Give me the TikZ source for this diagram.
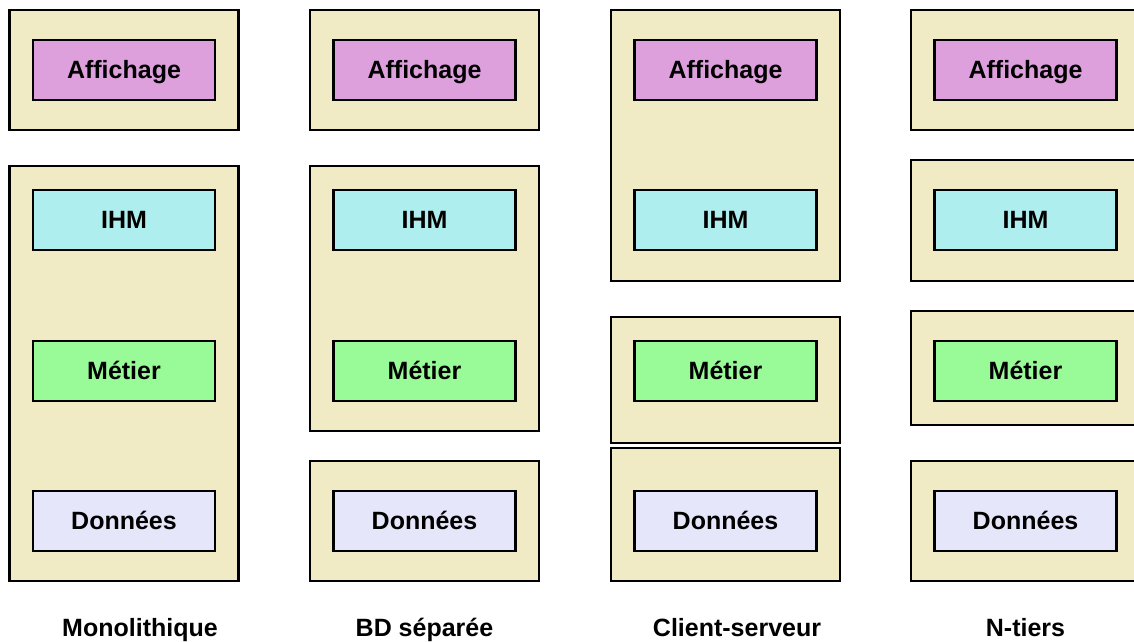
\documentclass[tikz,border=0pt]{standalone}
\usepackage{fontspec}
\setmainfont{Liberation Sans}
\definecolor{tierbg}{HTML}{F0EBC4}
\definecolor{affc}{HTML}{DDA0DD}
\definecolor{ihmc}{HTML}{AFEEEE}
\definecolor{metc}{HTML}{98FB98}
\definecolor{donc}{HTML}{E6E6FA}
\tikzset{
  tier/.style={draw=black, fill=tierbg, line width=2.6pt, minimum width=229pt, inner sep=0pt, outer sep=0pt},
  layer/.style={draw=black, line width=2.6pt, minimum width=182pt, minimum height=60pt, inner sep=0pt, outer sep=0pt,
    font=\fontsize{25pt}{30pt}\selectfont\bfseries, text height=16pt, text depth=0pt},
  aff/.style={layer, fill=affc},
  ihm/.style={layer, fill=ihmc},
  met/.style={layer, fill=metc},
  don/.style={layer, fill=donc},
  caption/.style={font=\fontsize{25pt}{30pt}\selectfont\bfseries, anchor=base, inner sep=0pt}
}
\begin{document}
\begin{tikzpicture}[x=1pt, y=-1pt]
\useasboundingbox (0,0) rectangle (1134,641);
% Column 1: Monolithique
\node[tier, minimum height=120pt] (m1) at (124,70) {};
\node[tier, minimum height=415pt] (m2) at (124,373.5) {};
\node[aff] (maff) at (124,70) {Affichage};
\node[ihm] (mihm) at (124,220) {IHM};
\node[met] (mmet) at (124,371) {Métier};
\node[don] (mdon) at (124,521) {Données};
\node[caption] (mcap) at (140,636) {Monolithique};
% Column 2: BD séparée
\node[tier, minimum height=120pt] (b1) at (424.5,70) {};
\node[tier, minimum height=265pt] (b2) at (424.5,298.5) {};
\node[tier, minimum height=120pt] (b3) at (424.5,521) {};
\node[aff] (baff) at (424.5,70) {Affichage};
\node[ihm] (bihm) at (424.5,220) {IHM};
\node[met] (bmet) at (424.5,371) {Métier};
\node[don] (bdon) at (424.5,521) {Données};
\node[caption] (bcap) at (424.5,636) {BD séparée};
% Column 3: Client-serveur
\node[tier, minimum height=271pt] (c1) at (725.5,145.5) {};
\node[tier, minimum height=126pt] (c2) at (725.5,380) {};
\node[tier, minimum height=133pt] (c3) at (725.5,514.5) {};
\node[aff] (caff) at (725.5,70) {Affichage};
\node[ihm] (cihm) at (725.5,220) {IHM};
\node[met] (cmet) at (725.5,371) {Métier};
\node[don] (cdon) at (725.5,521) {Données};
\node[caption] (ccap) at (737,636) {Client-serveur};
% Column 4: N-tiers
\node[tier, minimum height=120pt] (n1) at (1025.5,70) {};
\node[tier, minimum height=121pt] (n2) at (1025.5,220.5) {};
\node[tier, minimum height=114pt] (n3) at (1025.5,368) {};
\node[tier, minimum height=120pt] (n4) at (1025.5,521) {};
\node[aff] (naff) at (1025.5,70) {Affichage};
\node[ihm] (nihm) at (1025.5,220) {IHM};
\node[met] (nmet) at (1025.5,371) {Métier};
\node[don] (ndon) at (1025.5,521) {Données};
\node[caption] (ncap) at (1025.5,636) {N-tiers};
\end{tikzpicture}
\end{document}
